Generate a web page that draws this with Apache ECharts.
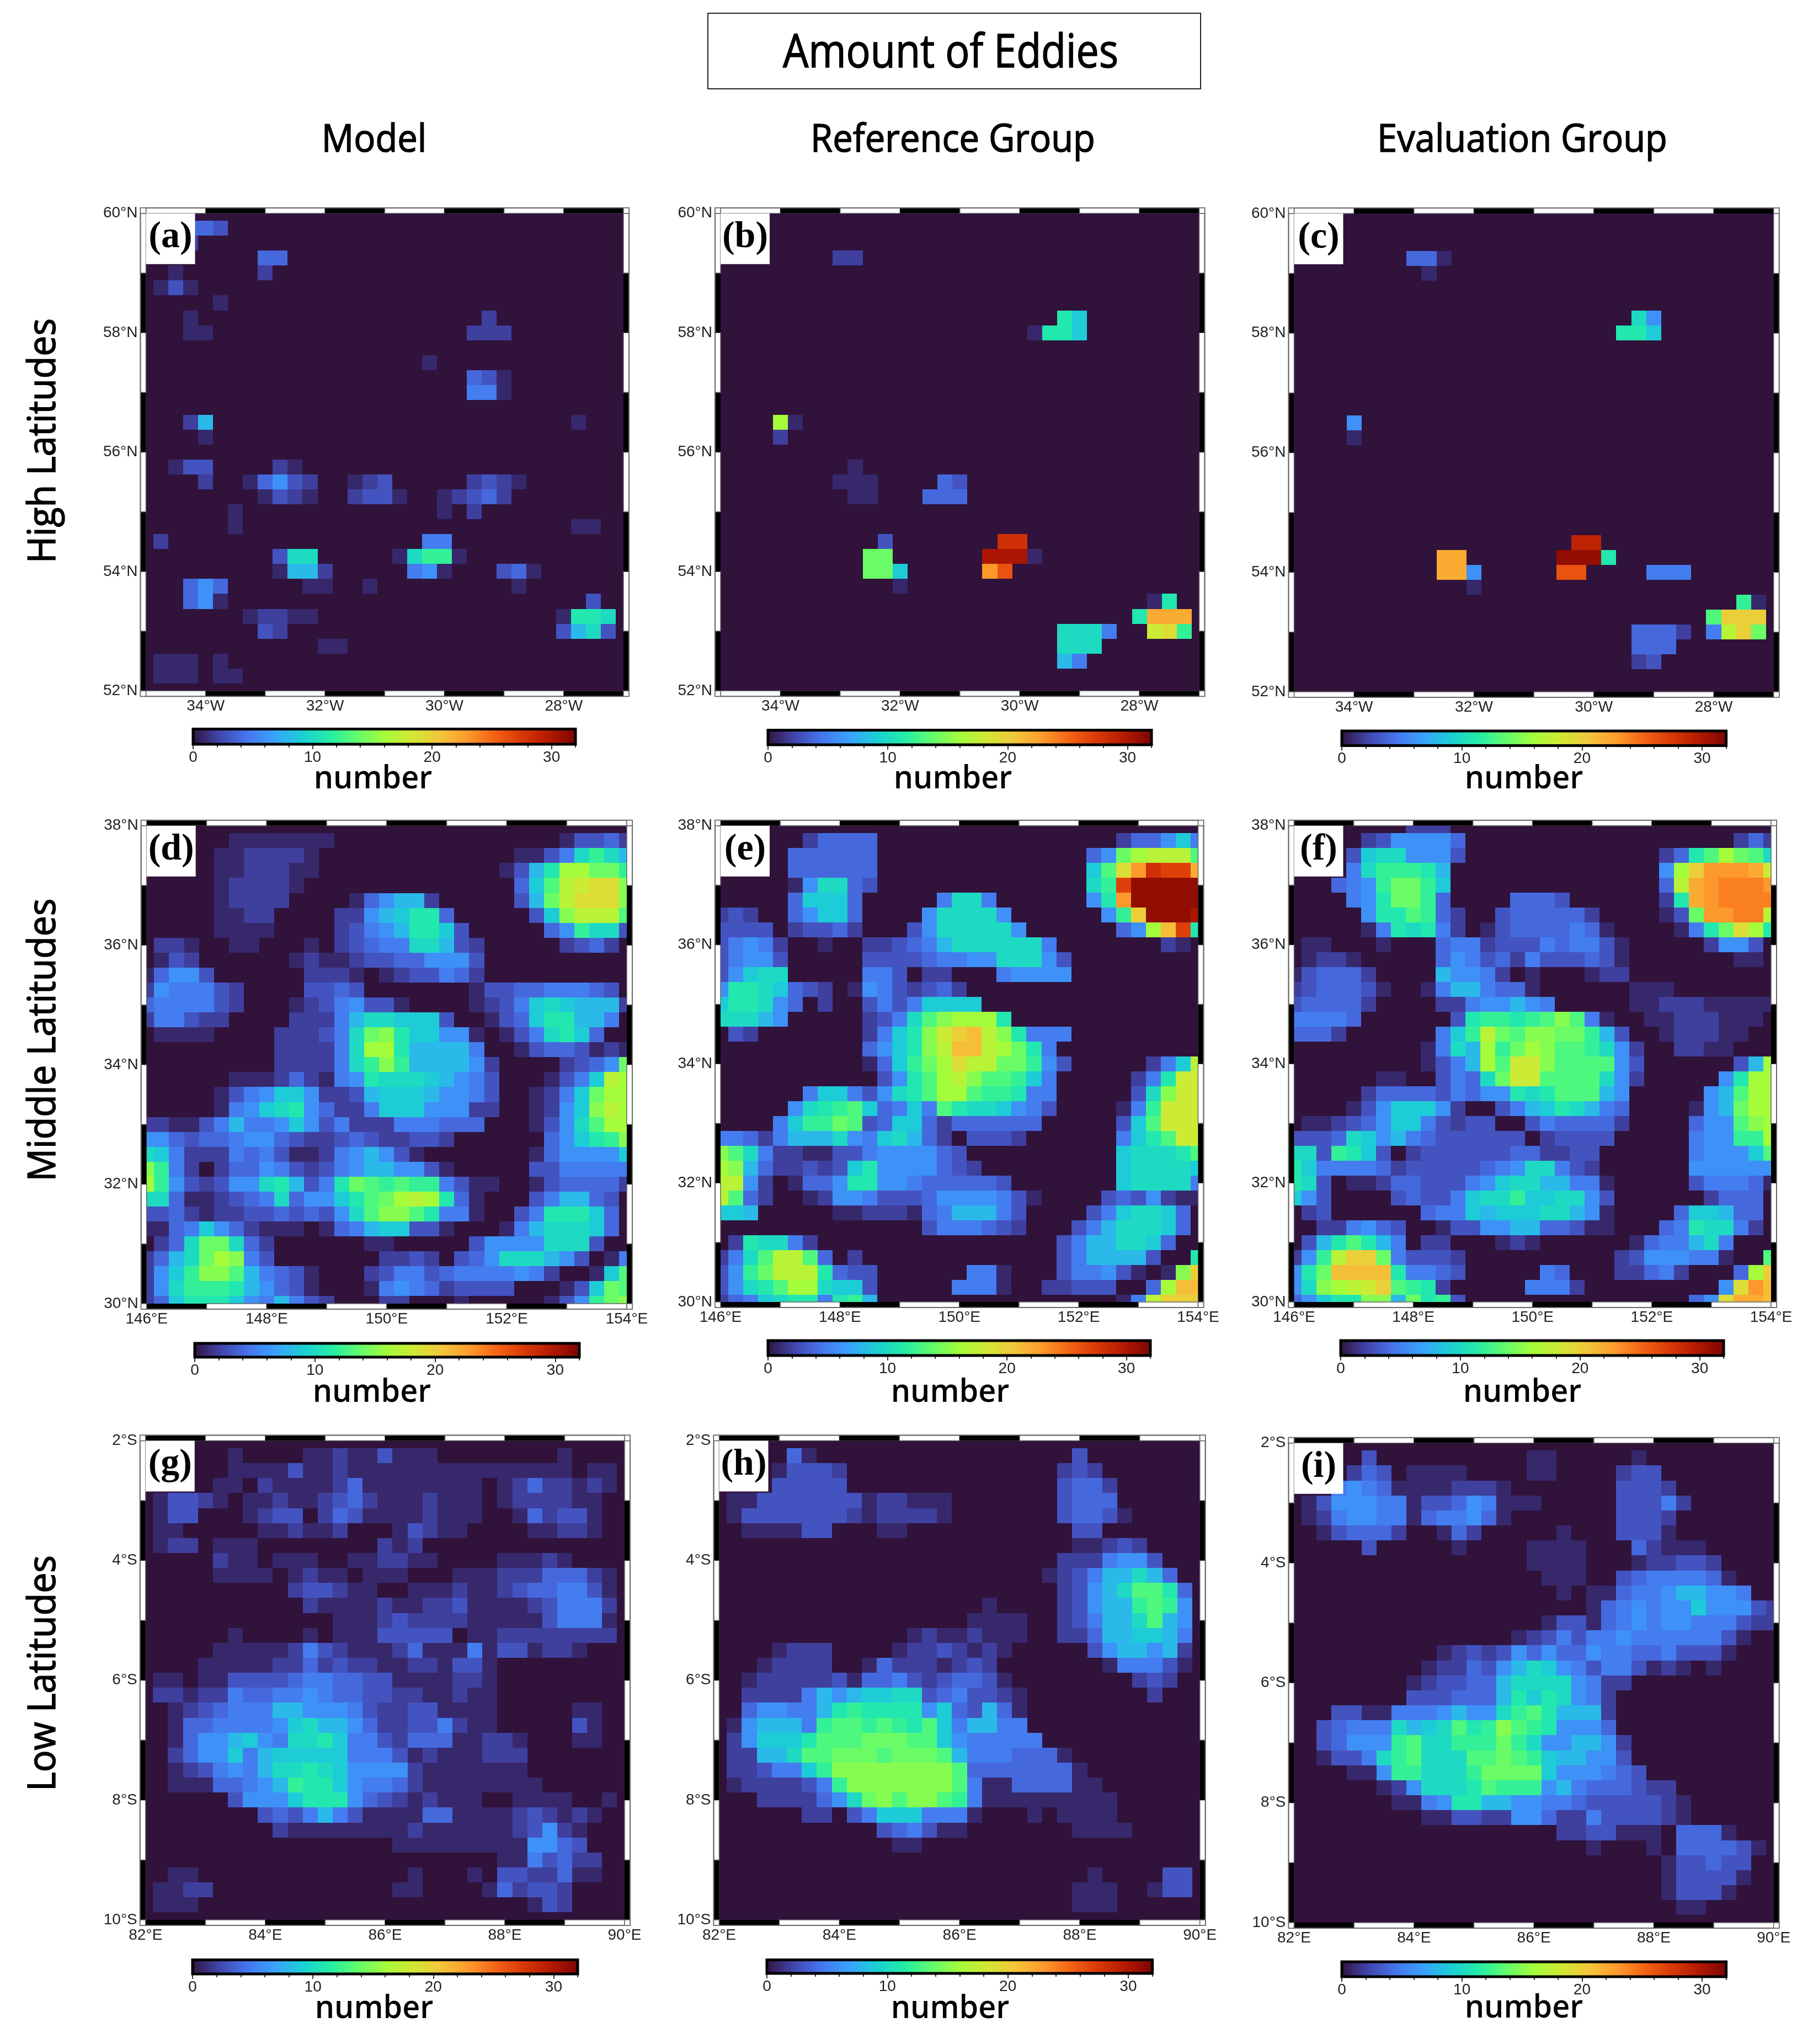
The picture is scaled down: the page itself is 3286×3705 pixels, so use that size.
<!DOCTYPE html>
<html>
<head>
<meta charset="utf-8">
<title>Amount of Eddies</title>
<script src="https://cdn.jsdelivr.net/npm/echarts@6/dist/echarts.min.js"></script>
<style>
html,body{margin:0;padding:0;background:#fff;}
#main{width:3286px;height:3705px;}
</style>
</head>
<body>
<div id="main"></div>
<script>
// eddy counts per 0.25 degree node, one string per latitude row, top row first.
// one character per node in base 36 (a=10 ... w=32), spaces only group the columns, short rows end in zeros
var panelA = ["","00044 30000","00020","00000 00044","00100 00020","01310","00000 10000",
"00010 00000 00000 00000 00020","00011 00000 00000 00000 00222","","00000 00000 00000 00001",
"00000 00000 00000 00000 00431","00000 00000 00000 00000 00551","",
"00028 00000 00000 00000 00000 00001","00001","","00133 00002 10000",
"00002 00146 32001 23000 00232 10000","00000 00013 21002 33100 12342","00000 01000 00000 00000 10200",
"00000 01000 00000 00000 00000 00001 100","02000 00000 00000 00005 50000",
"00000 00003 aa000 001ac c1000","00000 00001 88200 00056 10003 41000",
"00046 40000 01100 10000 00000 10000","00046 10000 00000 00000 00000 00000 300",
"00000 00122 11000 00000 00000 0001b ba0","00000 00032 00000 00000 00000 00038 a30",
"00000 00000 00110","01110 10000","01110 11000",""];
var panelB = ["","","","00000 00022","","","",
"00000 00000 00000 00000 000b9","00000 00000 00000 00000 01bb9","","","","","",
"0000g 10000","00002","","00000 00001","00000 00011 10000 43000","00000 00001 10004 44000","","",
"00000 00000 03000 0000s s0000","00000 00000 ee000 000uu u1000","00000 00000 ee900 000nq",
"00000 00000 00100","00000 00000 00000 00000 00000 00001 b00","00000 00000 00000 00000 00000 000bm mm0",
"00000 00000 00000 00000 000aa a500i jc0","00000 00000 00000 00000 000aa a0000",
"00000 00000 00000 00000 00085","",""];
var panelC = ["","","","00000 00044 10000","00000 00001","","",
"00000 00000 00000 00000 000a6","00000 00000 00000 00000 00bb9","","","","","",
"00006","00001","","","","","","",
"00000 00000 00000 0000t t0000","00000 00000 mm000 000vv vb000","00000 00000 mm600 000qq 00005 55000",
"00000 00000 00100","00000 00000 00000 00000 00000 00000 c10","00000 00000 00000 00000 00000 000dk kk0",
"00000 00000 00000 00000 00044 4205h ke0","00000 00000 00000 00000 00044 40000",
"00000 00000 00000 00000 00023","",""];
var panelD = ["",
"00000 01111 11100 00000 00000 00013 342",
"00000 11222 21000 00000 00000 1135a ca8",
"00000 11222 11000 00000 00001 38bgg eec",
"00000 12222 10000 00000 00000 49dhi jjf",
"00000 12222 00001 46882 00000 38ehj jjf",
"00000 11220 00022 689bb 40000 039fh hhd",
"00000 11110 00023 568bb 93000 0046c aa3",
"02210 01100 01023 455aa 83200 00023 420",
"01320 00000 12112 33446 66300 00000 000",
"14663 00000 02221 01233 54200 00000 000",
"26555 32000 03343 00000 00133 44555 430",
"45555 32000 12356 33100 00123 59a98 882",
"25532 20000 22258 aa999 30013 49bb8 850",
"01111 00002 2235a efb99 66101 35ab9 400",
"00000 00002 2225a ggb88 88500 13443 121",
"00000 00002 2225a cfc88 88620 00023 46e",
"00000 01112 42156 baaa9 86530 00135 9hg",
"00000 13569 96223 89998 66530 01259 egg",
"00000 1569a b6422 59996 66220 01269 fhg",
"22113 58556 96352 22555 44400 0136a dgg",
"66434 45664 32234 32233 20000 00469 bcf",
"a9522 25453 11256 86310 00000 01466 669",
"fc520 24465 32356 88663 10000 03355 555",
"gc632 366ab 835be dcdcc 53110 01344 442",
"aa411 2345a 4669b deghg b4100 03588 430",
"33421 22334 3436a dffdb 55100 35bbb 940",
"11459 64211 10145 89933 10001 58aaa 940",
"024ae ea420 00000 11000 00366 66aaa 300",
"248ae gf530 00000 02232 0346a aa863 015",
"269cf fd854 31000 23553 45555 65200 19d",
"26acc cb864 31000 15654 23333 00013 9ed",
"249bb b9658 53200 02200 01000 00136 cef"];
var panelE = ["",
"00000 02444 40000 00000 00000 00244 695",
"00000 44444 40000 00000 00000 46egh hhd",
"00000 44444 40000 00000 00000 9djns rrm",
"00000 16aa4 30000 00000 00000 acrvv vvv",
"00000 49994 00000 5aa50 00000 6bnvv vvv",
"23200 46994 00006 aaaa6 00000 06ckv vvu",
"33330 23342 00036 aaaaa 60000 0046g lrb",
"35652 00100 22345 8aaaa aa500 00000 210",
"35663 00000 33334 5566a aa630 00000 000",
"369aa 00000 55302 20005 66660 00000 000",
"6bba9 43201 65323 42000 00000 00000 000",
"9bba6 40200 35359 99900 00000 00000 000",
"aaa86 00000 235ad fgggb 00000 00000 000",
"03200 00000 259bf iklhf b5550 00000 000",
"00000 00000 469bf hllhg eb500 00000 000",
"00000 00000 149ce gjhhe ec630 00002 59h",
"00000 00000 036bd ghfdd c9500 00025 bii",
"00000 05995 36abd ggdcc b5500 0003a fii",
"00000 6abcd 94595 dbaa9 65300 0015c iii",
"00005 9cced 34994 24444 44000 0039d iii",
"55425 888a6 59a84 20333 20000 0059b dii",
"fda52 21133 56666 43000 00000 009aa abd",
"gf842 23239 b6666 43200 00000 009aa aa9",
"hh620 1446b b6654 44443 00000 009aa aa5",
"hd420 01266 53334 66665 31000 03436 211",
"99800 00011 22214 58885 30000 359aa 940",
"00000 00000 00003 55543 20003 58aaa 940",
"02baa 52000 00000 00000 00035 88aa9 400",
"25adh hd402 00000 00000 00035 88883 00b",
"36ceh hhb43 30000 00551 00035 56310 1fk",
"36abd gga99 30000 05551 00223 33004 gll",
"2459a bb5bc 80000 00000 00000 0015h kkk"];
var panelF = ["00000 00022 20000",
"00000 23666 64000 00000 00000 00000 242",
"00003 9aa66 63000 00000 00000 24bdg eda",
"00005 acccb 80000 00000 00000 6gknn nmi",
"00045 6ceec 90000 00000 00000 4hmno oon",
"00005 6beec 40000 44430 00000 2bmno ooo",
"00000 6bbdc 42003 44444 20000 13enn ooh",
"00000 15bab 52013 44445 41000 015be jgb",
"01100 01000 45523 33545 53100 00026 630",
"01221 00000 46534 25333 43100 00000 110",
"13444 20000 86652 01000 12200 00000 000",
"23444 31001 58854 41000 00011 10000 000",
"34444 20000 22566 86500 00011 22211 111",
"55554 00000 03bcc bcdfd 51001 12221 110",
"44420 00000 59che dffee c8300 12221 100",
"00000 00001 5a8gc egfdd ca620 02211 000",
"00000 00001 358gd iifdd dd630 00000 38g",
"00000 01100 354ae iiddd da620 00006 bgg",
"00000 24444 35466 babdd d8600 00068 dgg",
"00001 36999 62003 589ba 85400 00168 egg",
"01123 46995 32330 03544 44200 00466 dfg",
"3334a 96854 33333 30233 33000 00566 ccg",
"aa3cb 93023 33333 44223 30000 00566 69d",
"b9555 54233 33345 6aa53 20000 00666 666",
"ba301 12443 33569 aa885 51000 00355 541",
"96300 00343 359aa c99aa 63000 00024 440",
"02300 00004 55989 99aa8 61000 04998 440",
"00225 64300 13366 88443 11000 45baa 520",
"038bd b8502 20001 21000 00014 558a5 000",
"26chk ke533 32000 00000 00236 66551 00d",
"6bell llb55 43000 00540 00224 52000 4gk",
"6afgh ikdcb 20000 05552 00000 00006 jnl",
"469bb ff8eb c3000 00000 00000 0046j mml"];
var panelG = ["",
"00000 01000 01121 13111 00000 00010 000",
"00000 01111 31121 11111 11111 11110 110",
"00000 11021 11124 11111 11101 24221 210",
"01332 10112 11234 21112 11101 22221 100",
"01330 00123 30243 11112 11100 14233 100",
"01100 00011 21120 00132 11000 01122 100",
"01220 11100 00000 02120 00000 00000 000",
"00000 21101 11001 12211 00001 11210 000",
"00000 11110 12110 11100 01112 22444 210",
"00000 00000 23321 10011 12112 34455 310",
"00000 00000 02111 12112 23111 12355 520",
"00000 00000 00011 12322 22111 11355 510",
"00000 01000 01011 13333 30112 22222 220",
"00000 11111 25321 11241 11513 31221 000",
"00001 11112 24232 21122 13310 00000 000",
"01101 13333 45544 33111 12210 00000 000",
"02212 25445 56544 33221 12110 00000 000",
"00123 45558 86665 32233 11110 00001 100",
"00144 55556 9a886 42233 52110 00003 100",
"00146 68965 aab95 53244 41122 10001 100",
"00246 69589 99995 55312 11122 20000 000",
"00123 5658a aba96 66621 11111 10000 000",
"00111 44568 cbb96 55421 11111 11000 000",
"00000 03666 9bbb6 43212 11100 11110 010",
"00000 00034 35853 11114 41111 23212 100",
"00000 00002 11111 11121 11111 23621 000",
"00000 00000 00000 00111 11111 16643 000",
"00000 00000 00000 00000 00001 15342 200",
"00110 00000 00000 00010 00103 32241 100",
"01122 00000 00000 00110 00014 23320 000",
"01110 00000 00000 00000 00000 01320 000",
""];
var panelH = ["",
"00000 41000 00000 00000 00003",
"00001 33320 00000 00000 00023 20000",
"00003 33330 00000 00000 00034 42000",
"01133 33333 12211 10000 00034 44000",
"01333 33332 12222 10000 00034 43100",
"00111 13300 01100 00000 00003 30000",
"00000 00000 00000 00000 00001 12320",
"00000 00000 00000 00000 00022 25663",
"00000 00000 00000 00000 00123 588a8 400",
"00000 00000 00000 00000 00023 68add b40",
"00000 00000 00000 00010 00023 688cd c60",
"00000 00000 00000 00111 10023 588ad 860",
"00000 00000 00012 11211 10022 48899 850",
"00001 22200 00122 32121 00000 36886 820",
"00012 22200 14222 12320 00000 01555 310",
"00122 22231 44532 34431 00000 00023 200",
"00222 25868 99aa3 45332 10000 00002 000",
"00466 558bc bbbb6 94384 10000",
"01688 85cdd cdcbd 95885 50000",
"02699 9bddd eeedd 96555 55000",
"02288 addee edeee d8555 44410",
"02235 59cff fffff fd444 44441",
"01222 235cf fffff fd511 44441 10000",
"00022 2246a efdff dc511 11111 11000",
"00000 02203 59995 55100 01011 11000",
"00000 00000 03453 11000 00001 11100",
"00000 00000 00110",
"",
"00000 00000 00000 00000 00000 10000 330",
"00000 00000 00000 00000 00001 11001 330",
"00000 00000 00000 00000 00001 11000",
""];
var panelI = ["",
"00000 30000 00000 01100 00010",
"00002 43011 11000 01100 00233",
"00056 54111 12221 00000 00333 20000",
"01366 65513 34651 11000 00333 52000",
"01256 65514 55641 00000 00333 20000",
"00134 44200 14200 00010 00333 10000",
"00000 30000 01000 01111 00042 11100",
"00000 00000 00000 01111 00012 23320",
"00000 00000 00000 00111 00345 55541",
"00000 00000 00000 00010 11455 68866 500",
"00000 00000 00000 00000 14565 66966 632",
"00000 00000 00000 00133 14565 66555 322",
"00000 00000 00000 12353 55655 55553 100",
"00000 00000 12323 64644 65544 53331",
"00000 00001 22436 8a965 35531 21010",
"00000 00012 33448 aaaa6 52200",
"00000 00033 34448 b9ba6 52000",
"00033 11555 6866a cdb88 82000",
"00345 55a89 adbcf dcb66 64000",
"00346 66cda accce ca668 86200",
"00133 5acda aadde dc988 66300",
"00001 16cca aacee ee966 65430",
"00000 0126a aabdc cc685 44432 20000",
"00000 00115 6bb88 66554 33333 21000",
"00000 00001 13322 66422 53333 21000",
"00000 00000 00000 00022 33111 04441",
"00000 00000 00000 00000 10001 04444 310",
"00000 00000 00000 00000 00000 13343 300",
"00000 00000 00000 00000 00000 13333 100",
"00000 00000 00000 00000 00000 13331",
"00000 00000 00000 00000 00000 01100",
""];

var panelRows = [panelA, panelB, panelC, panelD, panelE, panelF, panelG, panelH, panelI];
var panelNames = ['(a)', '(b)', '(c)', '(d)', '(e)', '(f)', '(g)', '(h)', '(i)'];
var colTitles = ['Model', 'Reference Group', 'Evaluation Group'];
var rowTitles = ['High Latitudes', 'Middle Latitudes', 'Low Latitudes'];
var lonStarts = [-35, 146, 82];
var latStarts = [52, 30, -10];
var barTickValues = [0, 10, 20, 30];
var turbo = ['#30123b', '#4145ab', '#4675ed', '#39a2fc', '#1bcfd4', '#24eca6', '#61fc6c', '#a4fc3b',
    '#d1e834', '#f3c63a', '#fe9b2d', '#f36315', '#d93806', '#b11901', '#7a0402'];

// layout: map box [left, top, right, bottom]
var mapBoxes = [
    [264.5, 386.7, 1130, 1252.3], [1306, 386.7, 2173.5, 1252.3], [2345.5, 387, 3214.7, 1254],
    [265.7, 1496.7, 1136, 2363], [1306, 1496.7, 2171.5, 2360], [2345.5, 1496.7, 3210, 2360],
    [263.8, 2611.4, 1132, 3480], [1303.5, 2611.4, 2174.7, 3480], [2345.5, 2615.7, 3214.7, 3485]
];
// layout: colour bar [left, top, right, bottom]
var barBoxes = [
    [350, 1321.5, 1043, 1349], [1392, 1323.5, 2087, 1350], [2432, 1325, 3128.6, 1351.5],
    [353, 2435, 1050, 2460], [1392, 2430, 2085, 2457], [2430, 2430, 3124, 2457],
    [349, 3552.5, 1047, 3578], [1390, 3552.5, 2088.6, 3577], [2432, 3556, 3128.6, 3583]
];
// layout: centre of the "number" text
var numberPos = [
    [676, 1412], [1727, 1412], [2762, 1412],
    [674, 2524], [1722, 2524], [2759, 2524],
    [678, 3641], [1722, 3641], [2762, 3640]
];

var tickFont = '"Liberation Sans", Arial, sans-serif';
var titleFont = '"Open Sans", sans-serif';
var grids = [], xAxes = [], yAxes = [], series = [], graphics = [], cellSeries = [];

function readCells(rows, lon0, lat1) {
    var out = [];
    rows.forEach(function (row, j) {
        var txt = row.replace(/ /g, '');
        for (var i = 0; i < 33; i++) {
            var v = i < txt.length ? parseInt(txt.charAt(i), 36) : 0;
            out.push([lon0 + i * 0.25, lat1 - j * 0.25, v]);
        }
    });
    return out;
}

function renderCell(params, api) {
    var lon = api.value(0), lat = api.value(1);
    var p0 = api.coord([lon - 0.125, lat + 0.125]);
    var p1 = api.coord([lon + 0.125, lat - 0.125]);
    var x0 = Math.round(p0[0]), y0 = Math.round(p0[1]);
    var rect = echarts.graphic.clipRectByRect(
        { x: x0, y: y0, width: Math.round(p1[0]) - x0, height: Math.round(p1[1]) - y0 },
        params.coordSys
    );
    return rect && { type: 'rect', shape: rect, style: { fill: api.visual('color') } };
}

function bandPiece(x, y, w, h, black) {
    return {
        type: 'rect',
        shape: { x: x, y: y, width: w, height: h },
        style: { fill: black ? '#000' : '#fff', stroke: black ? '#000' : '#666', lineWidth: black ? 0 : 1.5 }
    };
}

// checker frame round the map, one data item per degree
function frameRenderer(lon0, lat0) {
    return function (params, api) {
        var k = api.value(0), band = 10;
        var cs = params.coordSys;
        var a = api.coord([lon0 + k, lat0 + k]), b = api.coord([lon0 + k + 1, lat0 + k + 1]);
        var lonBlack = Math.abs(Math.floor(lon0 + k)) % 2 === 0;
        var latBlack = Math.abs(Math.floor(lat0 + k)) % 2 === 0;
        return {
            type: 'group',
            children: [
                bandPiece(a[0], cs.y - band, b[0] - a[0], band, lonBlack),
                bandPiece(a[0], cs.y + cs.height, b[0] - a[0], band, lonBlack),
                bandPiece(cs.x - band, b[1], band, a[1] - b[1], latBlack),
                bandPiece(cs.x + cs.width, b[1], band, a[1] - b[1], latBlack)
            ]
        };
    };
}

function renderBar(params, api) {
    var p0 = api.coord([api.value(0), 1]), p1 = api.coord([api.value(1), 0]);
    var stops = turbo.map(function (c, i) { return { offset: i / (turbo.length - 1), color: c }; });
    return {
        type: 'rect',
        shape: { x: p0[0], y: p0[1], width: p1[0] - p0[0], height: p1[1] - p0[1] },
        style: { fill: new echarts.graphic.LinearGradient(0, 0, 1, 0, stops), stroke: '#000', lineWidth: 5 }
    };
}

panelRows.forEach(function (rows, n) {
    var r = Math.floor(n / 3);
    var lon0 = lonStarts[r], lat0 = latStarts[r];
    var box = mapBoxes[n], bar = barBoxes[n];
    var gi = grids.length, xi = xAxes.length, yi = yAxes.length;

    grids.push({
        left: box[0], top: box[1], width: box[2] - box[0], height: box[3] - box[1],
        show: true, backgroundColor: '#30123b', borderWidth: 0
    });
    xAxes.push({
        gridIndex: gi, type: 'value', min: lon0, max: lon0 + 8, interval: 1,
        axisLine: { show: false }, axisTick: { show: false }, splitLine: { show: false },
        axisLabel: {
            interval: 0, margin: 14, fontFamily: tickFont, fontSize: 28, color: '#222',
            formatter: function (v) {
                if (v % 2 !== 0) return '';
                return Math.abs(v) + (v < 0 ? '°W' : '°E');
            }
        }
    });
    yAxes.push({
        gridIndex: gi, type: 'value', min: lat0, max: lat0 + 8, interval: 1,
        axisLine: { show: false }, axisTick: { show: false }, splitLine: { show: false },
        axisLabel: {
            interval: 0, margin: 15, fontFamily: tickFont, fontSize: 28, color: '#222',
            formatter: function (v) {
                if (v % 2 !== 0) return '';
                return Math.abs(v) + (v < 0 ? '°S' : '°N');
            }
        }
    });
    cellSeries.push(series.length);
    series.push({
        type: 'custom', name: panelNames[n], xAxisIndex: xi, yAxisIndex: yi, clip: true, silent: true,
        encode: { x: 0, y: 1 }, renderItem: renderCell, data: readCells(rows, lon0, lat0 + 8)
    });
    series.push({
        type: 'custom', xAxisIndex: xi, yAxisIndex: yi, clip: false, silent: true, z: 5,
        encode: { x: 0 }, renderItem: frameRenderer(lon0, lat0), data: [[0], [1], [2], [3], [4], [5], [6], [7]]
    });

    // colour bar, short ticks on one axis and long ticks with labels on the other
    var bg = grids.length;
    grids.push({ left: bar[0], top: bar[1], width: bar[2] - bar[0], height: bar[3] - bar[1] });
    var bx = xAxes.length;
    xAxes.push({
        gridIndex: bg, type: 'value', position: 'bottom', min: 0, max: 32, interval: 2,
        axisLine: { show: false }, splitLine: { show: false }, axisLabel: { show: false },
        axisTick: { show: true, length: 6, lineStyle: { color: '#333', width: 2 } }
    });
    xAxes.push({
        gridIndex: bg, type: 'value', position: 'bottom', min: 0, max: 32,
        axisLine: { show: false }, splitLine: { show: false },
        axisTick: { show: true, customValues: barTickValues, length: 9, lineStyle: { color: '#333', width: 2 } },
        axisLabel: { show: true, customValues: barTickValues, margin: 10, fontFamily: tickFont, fontSize: 28, color: '#222' }
    });
    var by = yAxes.length;
    yAxes.push({ gridIndex: bg, type: 'value', min: 0, max: 1, show: false });
    series.push({
        type: 'custom', xAxisIndex: bx, yAxisIndex: by, clip: false, silent: true,
        encode: { x: [0, 1] }, renderItem: renderBar, data: [[0, 32]]
    });

    // outer frame line, corner squares, panel letter
    var band = 10;
    graphics.push({
        type: 'rect', z: 40, silent: true,
        shape: { x: box[0] - band, y: box[1] - band, width: box[2] - box[0] + 2 * band, height: box[3] - box[1] + 2 * band },
        style: { fill: 'none', stroke: '#666', lineWidth: 2 }
    });
    [[box[0] - band, box[1] - band], [box[2], box[1] - band], [box[0] - band, box[3]], [box[2], box[3]]].forEach(function (c) {
        graphics.push({
            type: 'rect', z: 41, silent: true, shape: { x: c[0], y: c[1], width: band, height: band },
            style: { fill: '#fff', stroke: '#666', lineWidth: 1.5 }
        });
    });
    graphics.push({
        type: 'rect', z: 42, silent: true, shape: { x: box[0], y: box[1], width: 89, height: 92 },
        style: { fill: '#fff' }
    });
    graphics.push({
        type: 'text', z: 43, silent: true, x: box[0] + 44.5, y: box[1] + 44,
        style: {
            text: panelNames[n], font: 'bold 68px "Liberation Serif", serif', fill: '#000',
            textAlign: 'center', textVerticalAlign: 'middle'
        }
    });
    graphics.push({
        type: 'text', z: 43, silent: true, x: numberPos[n][0], y: numberPos[n][1], scaleX: 0.96,
        style: {
            text: 'number', font: '600 58px ' + titleFont, fill: '#000',
            textAlign: 'center', textVerticalAlign: 'middle'
        }
    });
});

// figure title and the row and column headings, the thin stroke thickens the strokes of the font
function headingStyle(text, size) {
    return {
        text: text, font: size + 'px ' + titleFont, fill: '#000', stroke: '#000', lineWidth: 1.5,
        textAlign: 'center', textVerticalAlign: 'middle'
    };
}
graphics.push({
    type: 'rect', z: 40, silent: true, shape: { x: 1283, y: 24, width: 893, height: 137 },
    style: { fill: 'none', stroke: '#222', lineWidth: 2 }
});
graphics.push({
    type: 'text', z: 43, silent: true, x: 1723, y: 98, scaleX: 0.875,
    style: headingStyle('Amount of Eddies', 84)
});
[678, 1727, 2759].forEach(function (x, i) {
    graphics.push({
        type: 'text', z: 43, silent: true, x: x, y: 255, scaleX: 0.93,
        style: headingStyle(colTitles[i], 70)
    });
});
[799, 1885, 3033].forEach(function (y, i) {
    graphics.push({
        type: 'text', z: 43, silent: true, x: 80, y: y, rotation: Math.PI / 2, scaleX: 0.945,
        style: headingStyle(rowTitles[i], 70)
    });
});

var myecharts = echarts.init(document.getElementById('main'), null, { renderer: 'canvas' });
myecharts.setOption({
    animation: false,
    backgroundColor: '#fff',
    grid: grids,
    xAxis: xAxes,
    yAxis: yAxes,
    visualMap: {
        show: false, type: 'continuous', min: 0, max: 32, dimension: 2,
        seriesIndex: cellSeries, inRange: { color: turbo }
    },
    graphic: graphics,
    series: series
});
</script>
</body>
</html>
